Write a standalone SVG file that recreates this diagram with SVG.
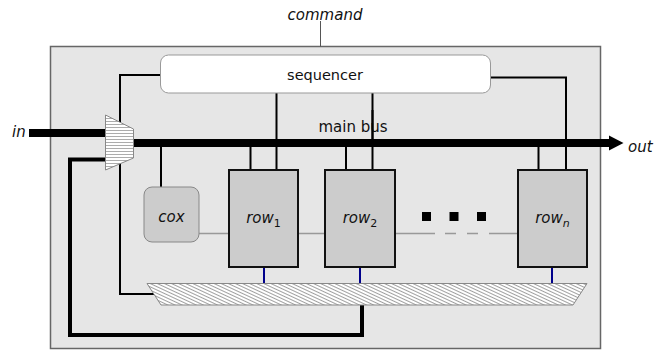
<svg xmlns="http://www.w3.org/2000/svg" width="672" height="350" viewBox="0 0 672 350">
<defs>
<pattern id="hh" width="4" height="3" patternUnits="userSpaceOnUse">
<rect width="4" height="3" fill="#fff"/>
<line x1="0" y1="1.5" x2="4" y2="1.5" stroke="#888" stroke-width="0.7"/>
</pattern>
<pattern id="dh" width="4" height="3" patternUnits="userSpaceOnUse" patternTransform="rotate(25)">
<rect width="4" height="3" fill="#fff"/>
<line x1="0" y1="1.5" x2="4" y2="1.5" stroke="#777" stroke-width="0.7"/>
</pattern>
<style>
text{font-family:"DejaVu Sans","Liberation Sans",sans-serif;fill:#111}
.it{font-style:italic}
.k{fill:none;stroke:#000;stroke-width:2}
.g{fill:none;stroke:#999;stroke-width:1.5}
.b{fill:none;stroke:#00008b;stroke-width:2}
.row{fill:#ccc;stroke:#111;stroke-width:2}
</style>
</defs>
<rect x="50.5" y="46.5" width="550" height="302" fill="#e6e6e6" stroke="#666" stroke-width="1.5"/>
<text class="it" x="325" y="20" font-size="15" text-anchor="middle">command</text>
<text class="it" x="12" y="137" font-size="15">in</text>
<text class="it" x="628" y="152" font-size="15">out</text>
<g id="connectors">
<path d="M320.5,21 V46.5" fill="none" stroke="#555" stroke-width="1"/>
<path class="k" d="M160.5,75 H120 V294 H154"/>
<path class="k" d="M490.5,77.5 H566 V170"/>
<path class="k" d="M276.5,93 V170 M372.5,93 V170"/>
<path d="M29,133 H106" stroke="#000" stroke-width="8" fill="none"/>
<path d="M133,143 H611" stroke="#000" stroke-width="8" fill="none"/>
<polygon points="609,135.5 623.5,143 609,150.5" fill="#000"/>
<path class="k" d="M161,143 V187 M250.5,143 V170 M346,143 V170 M538.5,143 V170"/>
<path d="M106,159.5 H70 V335 H362 V305" fill="none" stroke="#000" stroke-width="4"/>
<path class="g" d="M199,233.5 H229 M298,233.5 H325 M395,233.5 H435 M445,233.5 H456 M467,233.5 H478 M489,233.5 H518"/>
<path class="b" d="M264,267 V283.5 M360,267 V283.5 M552,267 V283.5"/>
<rect x="422" y="212" width="9" height="9" fill="#000"/>
<rect x="449.5" y="212" width="9" height="9" fill="#000"/>
<rect x="477" y="212" width="9" height="9" fill="#000"/>
</g>
<text x="353" y="132" font-size="15" text-anchor="middle">main bus</text>
<path d="M372.5,110 V139" stroke="#000" stroke-width="2"/>
<g id="sequencer">
<rect x="160.5" y="55" width="330" height="38" rx="8" fill="#fff" stroke="#999" stroke-width="1"/>
<text x="325" y="80" font-size="14.5" text-anchor="middle">sequencer</text>
</g>
<g id="mux">
<polygon points="105.5,115 133.5,129 133.5,158 105.5,170" fill="url(#hh)" stroke="#888" stroke-width="1"/>
</g>
<g id="cox">
<rect x="144" y="187" width="55" height="55" rx="8" fill="#ccc" stroke="#888" stroke-width="1"/>
<text class="it" x="171.5" y="222" font-size="15" text-anchor="middle">cox</text>
</g>
<g id="row1">
<rect class="row" x="229" y="170" width="69" height="97"/>
<text x="263.5" y="223" font-size="15" text-anchor="middle"><tspan class="it">row</tspan><tspan font-size="11" dy="4">1</tspan></text>
</g>
<g id="row2">
<rect class="row" x="325" y="170" width="70" height="97"/>
<text x="360" y="223" font-size="15" text-anchor="middle"><tspan class="it">row</tspan><tspan font-size="11" dy="4">2</tspan></text>
</g>
<g id="rown">
<rect class="row" x="518" y="170" width="69" height="97"/>
<text x="552.5" y="223" font-size="15" text-anchor="middle"><tspan class="it">row</tspan><tspan class="it" font-size="11" dy="4">n</tspan></text>
</g>
<g id="storage">
<polygon points="147,283.5 587,283.5 573,305 161,305" fill="url(#dh)" stroke="#888" stroke-width="1"/>
</g>
</svg>
